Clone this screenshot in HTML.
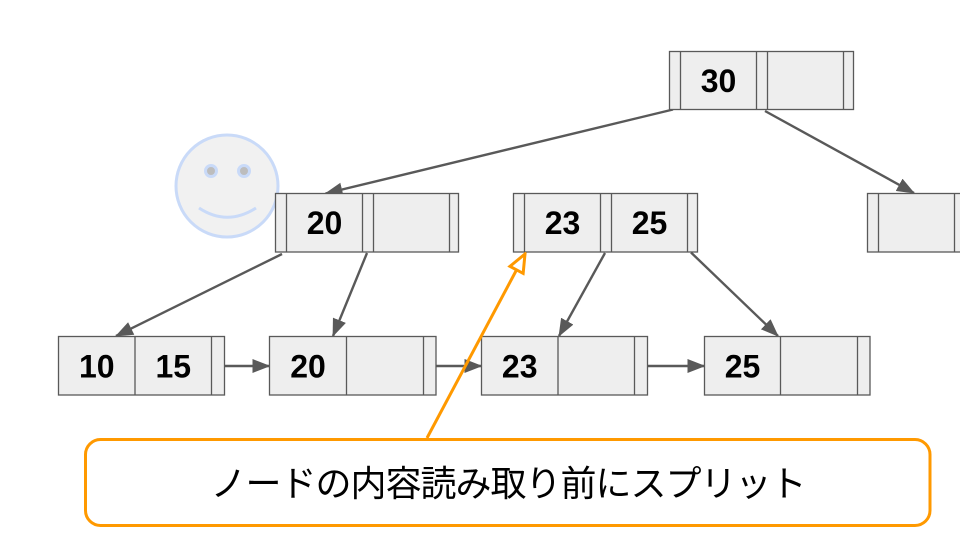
<!DOCTYPE html>
<html>
<head>
<meta charset="utf-8">
<style>
html,body{margin:0;padding:0;background:#fff;}
svg{display:block;}
.k{font-family:"Liberation Sans",Arial,sans-serif;font-weight:bold;font-size:32px;fill:#000;text-anchor:middle;}
.n{fill:#eeeeee;stroke:#595959;stroke-width:1.3;}
.d{stroke:#595959;stroke-width:1.3;}
.a{stroke:#595959;stroke-width:2.4;fill:none;}
</style>
</head>
<body>
<svg width="960" height="540" viewBox="0 0 960 540" xmlns="http://www.w3.org/2000/svg">
<defs>
<marker id="ah" markerUnits="userSpaceOnUse" viewBox="0 0 18 14" refX="17" refY="7" markerWidth="18" markerHeight="14" orient="auto">
<path d="M0,0 L18,7 L0,14 z" fill="#595959"/>
</marker>
<marker id="oh" markerUnits="userSpaceOnUse" viewBox="-2 -2 22 19" refX="18" refY="7.5" markerWidth="22" markerHeight="19" orient="auto">
<path d="M0,0 L18,7.5 L0,15 z" fill="#fff" stroke="#ff9900" stroke-width="3" stroke-linejoin="miter"/>
</marker>
</defs>

<!-- smiley -->
<circle cx="227" cy="186" r="51" fill="#f1f1f1" stroke="#c9daf8" stroke-width="3"/>
<circle cx="211" cy="171" r="5.5" fill="#bdbdbd" stroke="#c9daf8" stroke-width="3"/>
<circle cx="244" cy="171" r="5.5" fill="#bdbdbd" stroke="#c9daf8" stroke-width="3"/>
<path d="M199,208 Q227,226.5 256,208" fill="none" stroke="#c9daf8" stroke-width="3"/>

<!-- connectors -->
<line class="a" x1="673" y1="109.5" x2="325.5" y2="193.5" marker-end="url(#ah)"/>
<line class="a" x1="765" y1="111" x2="914" y2="193" marker-end="url(#ah)"/>
<line class="a" x1="282" y1="254" x2="116" y2="336" marker-end="url(#ah)"/>
<line class="a" x1="367" y1="253" x2="333" y2="336" marker-end="url(#ah)"/>
<line class="a" x1="605" y1="253" x2="559" y2="336" marker-end="url(#ah)"/>
<line class="a" x1="691" y1="252.5" x2="778" y2="336" marker-end="url(#ah)"/>
<line class="a" x1="224.5" y1="366" x2="269.5" y2="366" marker-end="url(#ah)"/>
<line class="a" x1="436" y1="366" x2="481.5" y2="366" marker-end="url(#ah)"/>
<line class="a" x1="647.5" y1="366" x2="704.5" y2="366" marker-end="url(#ah)"/>

<!-- root -->
<rect class="n" x="669.5" y="51.5" width="184" height="58"/>
<line class="d" x1="680.5" y1="51.5" x2="680.5" y2="109.5"/>
<line class="d" x1="756.5" y1="51.5" x2="756.5" y2="109.5"/>
<line class="d" x1="767.5" y1="51.5" x2="767.5" y2="109.5"/>
<line class="d" x1="843.5" y1="51.5" x2="843.5" y2="109.5"/>
<text class="k" x="718.5" y="92">30</text>

<!-- node 20 -->
<rect class="n" x="275.5" y="193.5" width="183" height="58.5"/>
<line class="d" x1="286.5" y1="193.5" x2="286.5" y2="252"/>
<line class="d" x1="362.5" y1="193.5" x2="362.5" y2="252"/>
<line class="d" x1="373.5" y1="193.5" x2="373.5" y2="252"/>
<line class="d" x1="449.5" y1="193.5" x2="449.5" y2="252"/>
<text class="k" x="324.5" y="234">20</text>

<!-- node 23|25 -->
<rect class="n" x="513.5" y="193.5" width="184" height="58.5"/>
<line class="d" x1="524.5" y1="193.5" x2="524.5" y2="252"/>
<line class="d" x1="600.5" y1="193.5" x2="600.5" y2="252"/>
<line class="d" x1="611.5" y1="193.5" x2="611.5" y2="252"/>
<line class="d" x1="687.5" y1="193.5" x2="687.5" y2="252"/>
<text class="k" x="562.5" y="234">23</text>
<text class="k" x="649.5" y="234">25</text>

<!-- right node -->
<rect class="n" x="867.5" y="193.5" width="184" height="58.5"/>
<line class="d" x1="878.5" y1="193.5" x2="878.5" y2="252"/>
<line class="d" x1="954.5" y1="193.5" x2="954.5" y2="252"/>

<!-- leaves -->
<rect class="n" x="58.5" y="336.5" width="166" height="58.5"/>
<line class="d" x1="135" y1="336.5" x2="135" y2="395"/>
<line class="d" x1="211.5" y1="336.5" x2="211.5" y2="395"/>
<text class="k" x="96.8" y="377.5">10</text>
<text class="k" x="173.3" y="377.5">15</text>

<rect class="n" x="269.5" y="336.5" width="166.5" height="58.5"/>
<line class="d" x1="346.5" y1="336.5" x2="346.5" y2="395"/>
<line class="d" x1="423.5" y1="336.5" x2="423.5" y2="395"/>
<text class="k" x="308" y="377.5">20</text>

<rect class="n" x="481.5" y="336.5" width="166" height="58.5"/>
<line class="d" x1="558" y1="336.5" x2="558" y2="395"/>
<line class="d" x1="634.5" y1="336.5" x2="634.5" y2="395"/>
<text class="k" x="519.7" y="377.5">23</text>

<rect class="n" x="704.5" y="336.5" width="165.5" height="58.5"/>
<line class="d" x1="780.5" y1="336.5" x2="780.5" y2="395"/>
<line class="d" x1="857.5" y1="336.5" x2="857.5" y2="395"/>
<text class="k" x="742.5" y="377.5">25</text>

<!-- callout -->
<rect x="85.5" y="439.5" width="844.5" height="86" rx="15" ry="15" fill="#fff" stroke="#ff9900" stroke-width="3"/>
<line x1="427" y1="438" x2="525" y2="254" stroke="#ff9900" stroke-width="3" marker-end="url(#oh)"/>
<text x="508" y="496" text-anchor="middle" font-family="'Liberation Sans','Noto Sans CJK JP',sans-serif" font-size="36" letter-spacing="-1" fill="#000">ノードの内容読み取り前にスプリット</text>
</svg>
</body>
</html>
